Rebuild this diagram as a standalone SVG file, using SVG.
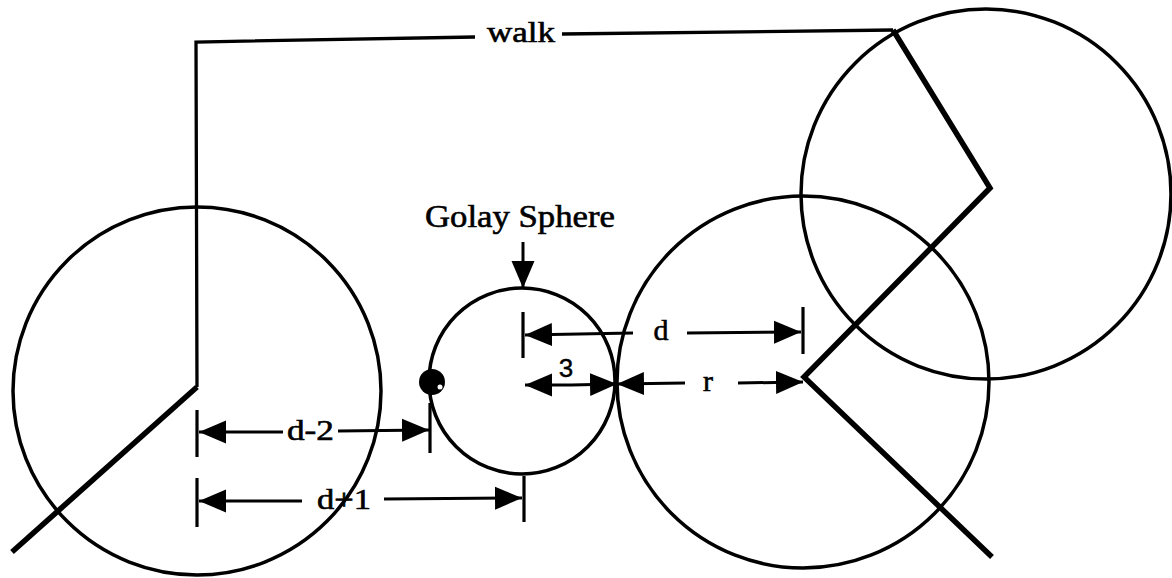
<svg xmlns="http://www.w3.org/2000/svg" width="1172" height="578" viewBox="0 0 1172 578">
<defs>
<marker id="ah" markerUnits="userSpaceOnUse" markerWidth="30" markerHeight="26" refX="27" refY="13" orient="auto-start-reverse">
<path d="M0,1.5 L27,13 L0,24.5 Z" fill="#000"/>
</marker>
<style>
.c{fill:none;stroke:#000;stroke-width:3.5}
.w{fill:none;stroke:#000;stroke-width:3.3;stroke-linejoin:miter}
.z{fill:none;stroke:#000;stroke-width:5.5;stroke-linejoin:miter}
.dim{fill:none;stroke:#000;stroke-width:3}
.tk{fill:none;stroke:#000;stroke-width:3.2}
.t{font-family:"Liberation Serif","Times New Roman",serif;fill:#000;stroke:#000;stroke-width:0.6}
.s{font-family:"Liberation Sans",Arial,sans-serif;fill:#000;stroke:#000;stroke-width:0.4}
</style>
</defs>
<rect width="1172" height="578" fill="#fff"/>
<g id="sphere-left"><circle class="c" cx="197" cy="391" r="184"/></g>
<g id="sphere-bottom-right"><circle class="c" cx="803" cy="382" r="186"/></g>
<g id="sphere-top-right"><circle class="c" cx="986" cy="194" r="185"/></g>
<g id="golay-sphere"><circle class="c" cx="522" cy="381" r="93"/>
<text class="t" x="425" y="227" font-size="31" textLength="190" lengthAdjust="spacingAndGlyphs">Golay Sphere</text></g>
<g id="point"><circle cx="432" cy="382" r="13" fill="#000"/><circle cx="440" cy="387" r="2.5" fill="#fff"/></g>
<g id="walk">
<path class="w" d="M197,387 L196,42 L475,37"/>
<path class="w" d="M562,34 L893,30"/>
<path class="z" d="M893,30 L990,188 L804,377 L992,557"/>
<path class="z" d="M197,387 L12,552"/>
<text class="t" x="487" y="42" font-size="29" textLength="68" lengthAdjust="spacingAndGlyphs">walk</text>
</g>
<g id="connectors">
<path class="dim" d="M523,242 L523,288" marker-end="url(#ah)"/>
<!-- d-2 -->
<path class="tk" d="M197,410 L197,457"/>
<path class="tk" d="M430,403 L430,453"/>
<path class="dim" d="M283,432 L199,432" marker-end="url(#ah)"/>
<path class="dim" d="M338,431 L429,430" marker-end="url(#ah)"/>
<text class="t" x="287" y="440" font-size="29" textLength="47" lengthAdjust="spacingAndGlyphs">d-2</text>
<!-- d+1 -->
<path class="tk" d="M197,478 L197,527"/>
<path class="tk" d="M524,476 L524,522"/>
<path class="dim" d="M302,501 L199,501" marker-end="url(#ah)"/>
<path class="dim" d="M384,499 L522,498" marker-end="url(#ah)"/>
<text class="t" x="317" y="509" font-size="29" textLength="54" lengthAdjust="spacingAndGlyphs">d+1</text>
<!-- d -->
<path class="tk" d="M523,312 L523,358"/>
<path class="tk" d="M803,307 L803,354"/>
<path class="dim" d="M633,333 L525,335" marker-end="url(#ah)"/>
<path class="dim" d="M687,333 L801,332" marker-end="url(#ah)"/>
<text class="t" x="661" y="340" font-size="30" text-anchor="middle">d</text>
<!-- 3 -->
<path class="dim" d="M571,385 L525,385" marker-end="url(#ah)"/>
<path class="dim" d="M571,385 L617,384" marker-end="url(#ah)"/>
<text class="s" x="566" y="377" font-size="26" text-anchor="middle">3</text>
<!-- r -->
<path class="dim" d="M685,383 L617,384" marker-end="url(#ah)"/>
<path class="dim" d="M738,383 L803,382" marker-end="url(#ah)"/>
<text class="t" x="708" y="391" font-size="30" text-anchor="middle">r</text>
</g>
</svg>
